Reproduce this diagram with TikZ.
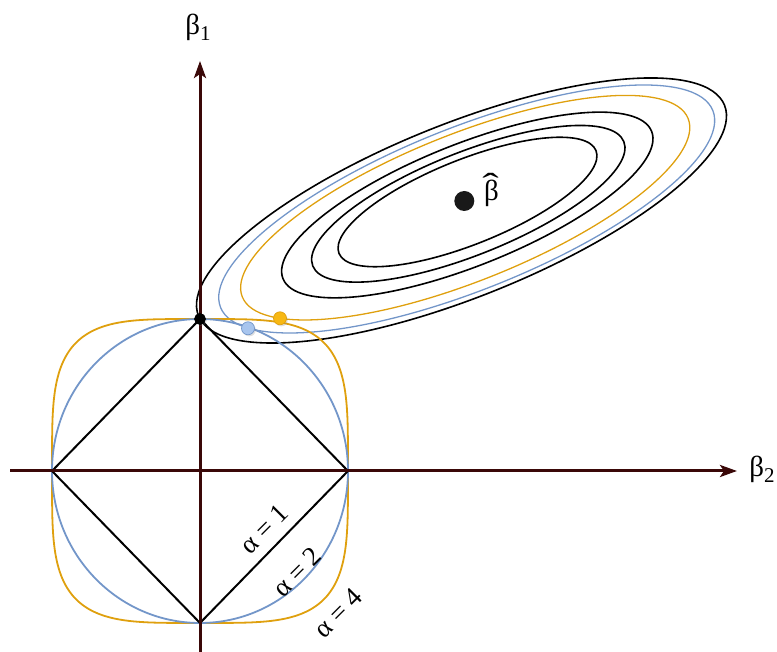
\documentclass[tikz,border=0pt]{standalone}
\usepackage{fontspec}
\setmainfont{Liberation Serif}
\usetikzlibrary{arrows.meta,shadows}
\definecolor{axiscol}{HTML}{3A0808}
\definecolor{bluec}{HTML}{7396C9}
\definecolor{orangec}{HTML}{DFA00E}
\definecolor{bluept}{HTML}{A8C5EE}
\definecolor{orangept}{HTML}{F7B814}
\newcommand{\betahat}{\makebox[0pt][l]{\raisebox{0.2em}{\kern-0.06em\scalebox{1.7}[1.1]{ˆ}}}β}
\begin{document}
\begin{tikzpicture}[x=1pt,y=1pt,
  contour/.style={line width=1.6pt},
  ball/.style={line width=1.8pt},
  axisline/.style={axiscol,line width=3pt,-{Stealth[length=17pt,width=12pt,inset=4pt]}},
  axlbl/.style={font=\fontsize{29}{32}\selectfont,inner sep=0pt},
  alpha lbl/.style={font=\fontsize{27}{30}\selectfont,inner sep=0pt,rotate=45},
  touchpt/.style={circle,inner sep=0pt,minimum size=13pt,line width=0.7pt,
     drop shadow={opacity=0.25,shadow xshift=1.3pt,shadow yshift=-1.6pt}}]
\useasboundingbox (0,0) rectangle (777,652);
% contours of the loss
\draw[contour,rotate around={21.8:(461.5,441.5)}] (461.5,441.5) ellipse[x radius=283.3,y radius=86.8];
\draw[contour,bluec,line width=1.3pt,rotate around={21.8:(466.7,443)}] (466.7,443) ellipse[x radius=265.1,y radius=81.2];
\draw[contour,orangec,line width=1.3pt,rotate around={21.8:(465.2,444.3)}] (465.2,444.3) ellipse[x radius=240.1,y radius=73.5];
\draw[contour,rotate around={21.8:(467.3,447)}] (467.3,447) ellipse[x radius=198.5,y radius=60.8];
\draw[contour,rotate around={21.8:(468.3,448.2)}] (468.3,448.2) ellipse[x radius=167.5,y radius=51.3];
\draw[contour,rotate around={21.8:(467.5,450)}] (467.5,450) ellipse[x radius=138.4,y radius=42.4];
% constraint regions
\draw[ball,orangec] plot[domain=0:360,samples=361]
  ({200+148*cos(\x)/((abs(cos(\x))^4+abs(sin(\x))^4)^0.25)},
   {181+152*sin(\x)/((abs(cos(\x))^4+abs(sin(\x))^4)^0.25)}) -- cycle;
\draw[ball,bluec] (200,181) ellipse[x radius=148,y radius=152];
\draw[ball,black,line width=2pt,line join=miter]
  (52,181) -- (200,333) -- (348,181) -- (200,29) -- cycle;
% axes
\coordinate (xs) at (10,181);
\coordinate (xe) at (737,181);
\coordinate (ys) at (200,0);
\coordinate (ye) at (200,591);
\draw[axisline] (xs) -- (xe);
\draw[axisline] (ys) -- (ye);
\node[axlbl] (b1) at (198,625) {β\raisebox{-0.22em}{\fontsize{21}{22}\selectfont 1}};
\node[axlbl] (b2) at (762,183) {β\raisebox{-0.22em}{\fontsize{21}{22}\selectfont 2}};
% labels of the balls
\node[alpha lbl] (a1) at (264,123) {α = 1};
\node[alpha lbl] (a2) at (297,80) {α = 2};
\node[alpha lbl] (a4) at (338,39) {α = 4};
% points
\node[circle,fill=black!90,inner sep=0pt,minimum size=20pt] (bhat) at (464.3,451) {};
\node[axlbl,anchor=west] (bhatlbl) at (484,462) {\betahat};
\node[touchpt,fill=orangept,draw=orangec] (po) at (280,333.7) {};
\node[touchpt,fill=bluept,draw=bluec] (pb) at (248,323.7) {};
\node[touchpt,fill=black,draw=black,minimum size=11pt] (pk) at (200,333) {};
\end{tikzpicture}
\end{document}
